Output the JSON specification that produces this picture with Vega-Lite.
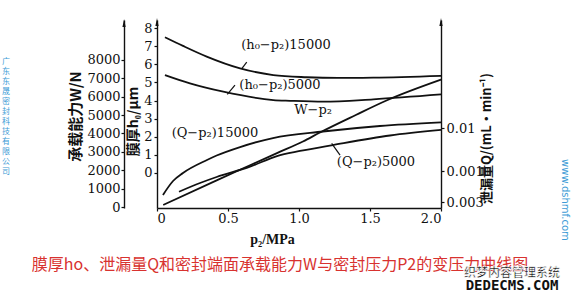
{
  "$schema": "https://vega.github.io/schema/vega-lite/v6.json",
  "width": 284,
  "height": 188,
  "autosize": {"type": "none"},
  "padding": {"left": 157, "top": 20, "right": 131, "bottom": 92},
  "background": "white",
  "config": {
    "view": {"stroke": null},
    "axis": {
      "grid": false,
      "labelFont": "DejaVu Serif",
      "labelFontSize": 13,
      "labelColor": "#111",
      "domainColor": "#111",
      "domainWidth": 1.4,
      "tickColor": "#111",
      "tickWidth": 1.2,
      "tickSize": 3,
      "titleFont": "Noto Sans CJK SC",
      "titleFontWeight": "bold",
      "titleColor": "#111"
    }
  },
  "datasets": {
    "hcurves": [
      {"p2": 0.056, "h": 7.50, "s": "h15000"},
      {"p2": 0.183, "h": 7.02, "s": "h15000"},
      {"p2": 0.35, "h": 6.43, "s": "h15000"},
      {"p2": 0.585, "h": 5.78, "s": "h15000"},
      {"p2": 0.819, "h": 5.41, "s": "h15000"},
      {"p2": 1.054, "h": 5.29, "s": "h15000"},
      {"p2": 1.275, "h": 5.25, "s": "h15000"},
      {"p2": 1.523, "h": 5.27, "s": "h15000"},
      {"p2": 2.0, "h": 5.37, "s": "h15000"},
      {"p2": 0.056, "h": 5.41, "s": "h5000"},
      {"p2": 0.232, "h": 4.95, "s": "h5000"},
      {"p2": 0.467, "h": 4.49, "s": "h5000"},
      {"p2": 0.819, "h": 4.03, "s": "h5000"},
      {"p2": 0.937, "h": 3.99, "s": "h5000"},
      {"p2": 1.171, "h": 3.94, "s": "h5000"},
      {"p2": 1.523, "h": 4.07, "s": "h5000"},
      {"p2": 2.0, "h": 4.34, "s": "h5000"}
    ],
    "wline": [
      {"p2": 0.044, "w": 110},
      {"p2": 0.42, "w": 1450},
      {"p2": 0.655, "w": 2270},
      {"p2": 0.845, "w": 2930},
      {"p2": 1.028, "w": 3560},
      {"p2": 1.148, "w": 4050},
      {"p2": 1.4, "w": 5000},
      {"p2": 1.62, "w": 5800},
      {"p2": 2.0, "w": 6920}
    ],
    "qcurves": [
      {"p2": 0.042, "q": 0.000277, "s": "Q15000"},
      {"p2": 0.113, "q": 0.000585, "s": "Q15000"},
      {"p2": 0.183, "q": 0.000898, "s": "Q15000"},
      {"p2": 0.352, "q": 0.0018, "s": "Q15000"},
      {"p2": 0.42, "q": 0.00229, "s": "Q15000"},
      {"p2": 0.585, "q": 0.00361, "s": "Q15000"},
      {"p2": 0.817, "q": 0.00585, "s": "Q15000"},
      {"p2": 1.169, "q": 0.00829, "s": "Q15000"},
      {"p2": 1.57, "q": 0.01113, "s": "Q15000"},
      {"p2": 2.0, "q": 0.0135, "s": "Q15000"},
      {"p2": 0.155, "q": 0.00033, "s": "Q5000"},
      {"p2": 0.303, "q": 0.000526, "s": "Q5000"},
      {"p2": 0.42, "q": 0.000725, "s": "Q5000"},
      {"p2": 0.655, "q": 0.00126, "s": "Q5000"},
      {"p2": 0.845, "q": 0.00223, "s": "Q5000"},
      {"p2": 1.007, "q": 0.00292, "s": "Q5000"},
      {"p2": 1.239, "q": 0.00402, "s": "Q5000"},
      {"p2": 1.641, "q": 0.00669, "s": "Q5000"},
      {"p2": 2.0, "q": 0.009, "s": "Q5000"}
    ],
    "labels": [
      {"p2": 0.908, "h": 7.07, "t": "(h₀−p₂)15000"},
      {"p2": 0.866, "h": 4.86, "t": "(h₀−p₂)5000"},
      {"p2": 1.099, "h": 3.48, "t": "W−p₂"},
      {"p2": 0.408, "h": 2.21, "t": "(Q−p₂)15000"},
      {"p2": 1.542, "h": 0.61, "t": "(Q−p₂)5000"}
    ],
    "leaders": [
      {"p2": 0.596, "h": 5.75, "p2b": 0.632, "hb": 6.13},
      {"p2": 0.495, "h": 4.35, "p2b": 0.549, "hb": 4.86},
      {"p2": 1.23, "h": 1.64, "p2b": 1.289, "hb": 0.99}
    ],
    "arrows": [
      {"p2": -0.232, "h": 8.29},
      {"p2": 0, "h": 8.34},
      {"p2": 2.0, "h": 8.34}
    ],
    "company": [
      {"p2": -1.063, "h": 6.13, "t": "广"},
      {"p2": -1.063, "h": 5.58, "t": "东"},
      {"p2": -1.063, "h": 5.03, "t": "东"},
      {"p2": -1.063, "h": 4.48, "t": "晟"},
      {"p2": -1.063, "h": 3.93, "t": "密"},
      {"p2": -1.063, "h": 3.38, "t": "封"},
      {"p2": -1.063, "h": 2.83, "t": "科"},
      {"p2": -1.063, "h": 2.28, "t": "技"},
      {"p2": -1.063, "h": 1.73, "t": "有"},
      {"p2": -1.063, "h": 1.18, "t": "限"},
      {"p2": -1.063, "h": 0.63, "t": "公"},
      {"p2": -1.063, "h": 0.08, "t": "司"}
    ]
  },
  "encoding": {
    "x": {
      "field": "p2",
      "type": "quantitative",
      "scale": {"domain": [0, 2], "nice": false, "zero": false},
      "axis": {
        "orient": "bottom",
        "values": [0, 0.5, 1, 1.5, 2],
        "labelExpr": "datum.value == 0 ? '0' : format(datum.value, '.1f')",
        "labelPadding": 1,
        "labelFontSize": 13,
        "title": "p₂/MPa",
        "titleFont": "Liberation Serif",
        "titleFontSize": 14,
        "titleX": 115,
        "titleY": 31,
        "titleBaseline": "middle"
      }
    }
  },
  "layer": [
    {
      "encoding": {
        "y": {
          "field": "h",
          "type": "quantitative",
          "scale": {"domain": [-1.934, 8.453], "nice": false, "zero": false},
          "axis": {
            "orient": "left",
            "values": [0, 1, 2, 3, 4, 5, 6, 7, 8],
            "labelPadding": 2,
            "title": "膜厚h₀/μm",
            "titleFontSize": 14,
            "titleAngle": -90,
            "titleX": -24,
            "titleY": 101,
            "titleAlign": "center",
            "titleBaseline": "middle"
          }
        }
      },
      "layer": [
        {
          "data": {"name": "hcurves"},
          "mark": {"type": "line", "interpolate": "monotone", "color": "#111", "strokeWidth": 1.8},
          "encoding": {"detail": {"field": "s", "type": "nominal"}}
        },
        {
          "data": {"name": "labels"},
          "mark": {"type": "text", "font": "DejaVu Serif", "fontSize": 13, "color": "#111", "align": "center", "baseline": "middle"},
          "encoding": {"text": {"field": "t", "type": "nominal"}}
        },
        {
          "data": {"name": "leaders"},
          "mark": {"type": "rule", "color": "#111", "strokeWidth": 1.2},
          "encoding": {
            "x2": {"field": "p2b"},
            "y2": {"field": "hb"}
          }
        },
        {
          "data": {"name": "arrows"},
          "mark": {"type": "point", "shape": "M0,-1L0.4,1L-0.4,1Z", "filled": true, "size": 64, "color": "#111", "opacity": 1},
          "encoding": {}
        },
        {
          "data": {"name": "company"},
          "mark": {"type": "text", "font": "Noto Sans CJK SC", "fontSize": 8, "color": "#3d9bd6", "align": "center", "baseline": "middle"},
          "encoding": {"text": {"field": "t", "type": "nominal"}}
        },
        {
          "data": {"values": [{"p2": 2.873, "h": -1.49, "t": "www.dshmf.com"}]},
          "mark": {"type": "text", "font": "DejaVu Sans", "fontSize": 10, "angle": 90, "color": "#3d9bd6", "align": "center", "baseline": "middle"},
          "encoding": {"text": {"field": "t", "type": "nominal"}}
        },
        {
          "data": {"values": [{"p2": 0.866, "h": -5.08, "t": "膜厚ho、泄漏量Q和密封端面承载能力W与密封压力P2的变压力曲线图"}]},
          "mark": {"type": "text", "font": "Noto Sans CJK SC", "fontSize": 16, "color": "#d8322f", "align": "center", "baseline": "middle"},
          "encoding": {"text": {"field": "t", "type": "nominal"}}
        },
        {
          "data": {"values": [{"p2": 2.5, "h": -5.55, "t": "织梦内容管理系统"}]},
          "mark": {"type": "text", "font": "Noto Sans CJK SC", "fontSize": 12, "fontWeight": "bold", "color": "#111", "stroke": "white", "strokeWidth": 0.6, "align": "center", "baseline": "middle"},
          "encoding": {"text": {"field": "t", "type": "nominal"}}
        },
        {
          "data": {"values": [{"p2": 2.5, "h": -6.27, "t": "DEDECMS.COM"}]},
          "mark": {"type": "text", "font": "DejaVu Sans Mono", "fontSize": 14, "fontWeight": "bold", "color": "#111", "align": "center", "baseline": "middle"},
          "encoding": {"text": {"field": "t", "type": "nominal"}}
        }
      ]
    },
    {
      "data": {"name": "wline"},
      "mark": {"type": "line", "interpolate": "monotone", "color": "#111", "strokeWidth": 1.8},
      "encoding": {
        "y": {
          "field": "w",
          "type": "quantitative",
          "scale": {"domain": [-54.3, 10163], "nice": false, "zero": false},
          "axis": {
            "orient": "left",
            "offset": 33,
            "values": [0, 1000, 2000, 3000, 4000, 5000, 6000, 7000, 8000],
            "format": "d",
            "labelPadding": 1,
            "title": "承载能力W/N",
            "titleFontSize": 15,
            "titleAngle": -90,
            "titleX": -49,
            "titleY": 96,
            "titleAlign": "center",
            "titleBaseline": "middle"
          }
        }
      }
    },
    {
      "data": {"name": "qcurves"},
      "mark": {"type": "line", "interpolate": "monotone", "color": "#111", "strokeWidth": 1.8},
      "encoding": {
        "detail": {"field": "s", "type": "nominal"},
        "y": {
          "field": "q",
          "type": "quantitative",
          "scale": {"type": "log", "domain": [0.0001379, 3.249], "nice": false},
          "axis": {
            "orient": "right",
            "values": [0.01, 0.001, 0.00019],
            "labelExpr": "datum.value > 0.005 ? '0.01' : datum.value > 0.0005 ? '0.001' : '0.003'",
            "labelPadding": 2,
            "title": "泄漏量Q/(mL·min⁻¹)",
            "titleFontSize": 13,
            "titleAngle": -90,
            "titleX": 45,
            "titleY": 118,
            "titleAlign": "center",
            "titleBaseline": "middle"
          }
        }
      }
    }
  ],
  "resolve": {"scale": {"y": "independent"}, "axis": {"y": "independent"}}
}
